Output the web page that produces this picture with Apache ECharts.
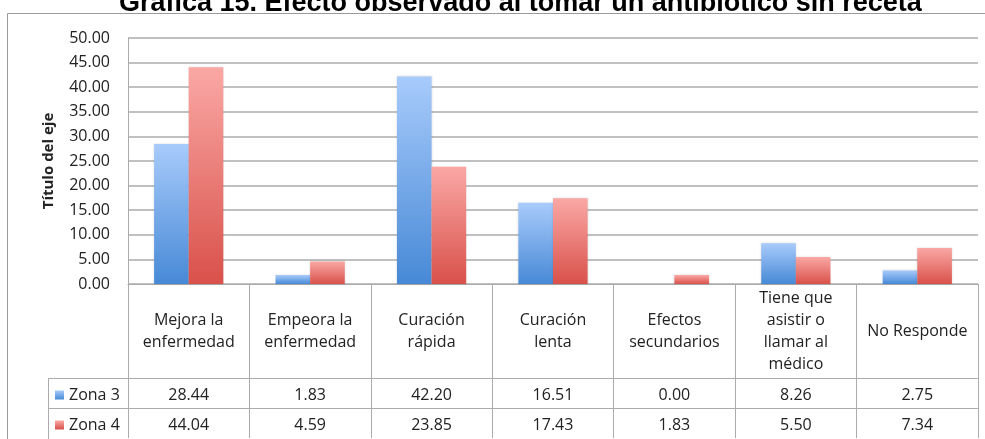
<!DOCTYPE html>
<html><head><meta charset="utf-8">
<script src="https://cdn.jsdelivr.net/npm/echarts/dist/echarts.min.js"></script>
<style>html,body{margin:0;padding:0;background:#fff;}#c{width:985px;height:439px;}</style>
</head><body><div id="c"></div>
<script>
var titleText = 'Gráfica 15. Efecto observado al tomar un antibiótico sin receta';
var categories = ['Mejora la\nenfermedad', 'Empeora la\nenfermedad', 'Curación\nrápida', 'Curación\nlenta', 'Efectos\nsecundarios', 'Tiene que\nasistir o\nllamar al\nmédico', 'No Responde'];
var seriesNames = ['Zona 3', 'Zona 4'];
var zona3 = [28.44, 1.83, 42.20, 16.51, 0.00, 8.26, 2.75];
var zona4 = [44.04, 4.59, 23.85, 17.43, 1.83, 5.50, 7.34];
var yMin = 0, yMax = 50, yStep = 5;

var FONT = 'Open Sans';
var G = {left: 128, right: 7, top: 38, bottom: 155};
var W = 985, H = 439;
var row1 = 378, row2 = 408, tableLeft = 48, tableRight = W - G.right;

var chart = echarts.init(document.getElementById('c'), null, {renderer: 'canvas'});
var lineCol = '#ababab';
function grad(top, bottom) {
  return new echarts.graphic.LinearGradient(0, 0, 0, 1, [{offset: 0, color: top}, {offset: 1, color: bottom}]);
}
function valueAxis(arr, off) {
  return {
    type: 'category', data: categories, gridIndex: 0, position: 'bottom', offset: off,
    axisLine: {show: false}, axisTick: {show: false},
    axisLabel: {interval: 0, margin: 0, fontFamily: FONT, fontSize: 16, color: '#222', lineHeight: 18,
      formatter: function (v, i) { return arr[i].toFixed(2); }}
  };
}
chart.setOption({
  animation: false,
  title: {text: titleText, left: 114, top: -15,
    textStyle: {fontFamily: 'Liberation Sans', fontWeight: 'bold', fontSize: 27, color: '#000'}},
  grid: {left: G.left, right: G.right, top: G.top, bottom: G.bottom, containLabel: false},
  legend: {orient: 'vertical', left: 55, top: 386, padding: 0, itemWidth: 9, itemHeight: 9, itemGap: 12, icon: 'rect',
    textStyle: {fontFamily: FONT, fontSize: 16, color: '#222', lineHeight: 18}, data: seriesNames},
  xAxis: [{
    type: 'category', data: categories, gridIndex: 0,
    axisLine: {show: true, lineStyle: {color: lineCol, width: 1}},
    axisTick: {show: true, interval: 0, length: 154, inside: false, lineStyle: {color: lineCol, width: 1}},
    axisLabel: {interval: 0, margin: 47, verticalAlign: 'middle', fontFamily: FONT, fontSize: 16, color: '#222', lineHeight: 22},
    splitLine: {show: false}
  }, valueAxis(zona3, 102), valueAxis(zona4, 132)],
  yAxis: {
    type: 'value', min: yMin, max: yMax, interval: yStep,
    name: 'Título del eje', nameLocation: 'middle', nameGap: 72,
    nameTextStyle: {fontFamily: FONT, fontWeight: 'bold', fontSize: 15, color: '#222'},
    axisLine: {show: true, lineStyle: {color: lineCol, width: 1}},
    axisTick: {show: false},
    axisLabel: {margin: 18, fontFamily: FONT, fontSize: 16, color: '#222', formatter: function (v) { return v.toFixed(2); }},
    splitLine: {show: true, lineStyle: {color: lineCol, width: 1.5}}
  },
  series: [{
    name: seriesNames[0], type: 'bar', data: zona3, barGap: '0%', barCategoryGap: '43%',
    itemStyle: {color: grad('#a8cbfb', '#4789d6'), shadowColor: 'rgba(0,0,0,0.15)', shadowBlur: 2}
  }, {
    name: seriesNames[1], type: 'bar', data: zona4, barGap: '0%', barCategoryGap: '43%',
    itemStyle: {color: grad('#faa8a5', '#d9514a'), shadowColor: 'rgba(0,0,0,0.15)', shadowBlur: 2}
  }],
  graphic: [
    {type: 'rect', shape: {x: 7.5, y: 13.5, width: W, height: H}, style: {fill: null, stroke: '#9a9a9a', lineWidth: 1}, silent: true},
    {type: 'line', shape: {x1: tableLeft, y1: row1 + 0.5, x2: tableRight, y2: row1 + 0.5}, style: {stroke: lineCol, lineWidth: 1}, silent: true},
    {type: 'line', shape: {x1: tableLeft, y1: row2 + 0.5, x2: tableRight, y2: row2 + 0.5}, style: {stroke: lineCol, lineWidth: 1}, silent: true},
    {type: 'line', shape: {x1: tableLeft + 0.5, y1: row1, x2: tableLeft + 0.5, y2: H}, style: {stroke: lineCol, lineWidth: 1}, silent: true}
  ]
});
</script></body></html>
